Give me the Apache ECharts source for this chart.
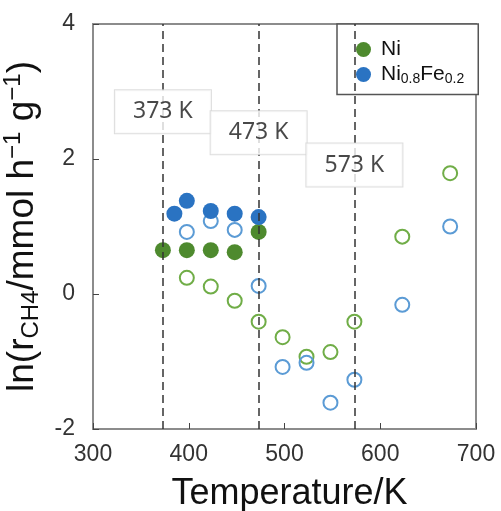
<!DOCTYPE html>
<html>
<head>
<meta charset="utf-8">
<script src="https://cdn.jsdelivr.net/npm/echarts@6/dist/echarts.min.js"></script>
<style>
  html, body { margin: 0; padding: 0; background: #fff; }
  #main { width: 501px; height: 511px; }
</style>
</head>
<body>
<div id="main"></div>
<script>
// temperatures (K) and ln(r) values
var niFilled = [[373, 0.65], [398, 0.65], [423, 0.65], [448, 0.62], [473, 0.92]];
var feFilled = [[385, 1.19], [398, 1.38], [423, 1.23], [448, 1.19], [473, 1.14]];
var niOpen = [[398, 0.24], [423, 0.11], [448, -0.1], [473, -0.41], [498, -0.64], [523, -0.93],
  [548, -0.86], [573, -0.41], [623, 0.85], [673, 1.79]];
var feOpen = [[398, 0.92], [423, 1.08], [448, 0.95], [473, 0.12], [498, -1.08], [523, -1.02],
  [548, -1.61], [573, -1.27], [623, -0.16], [673, 1.0]];
var refTemps = [373, 473, 573];
var refLabels = ['373 K', '473 K', '573 K'];
var refLabelY = [2.70, 2.39, 1.91];

var xTicks = { min: 300, max: 700, interval: 100 };
var yTicks = { min: -2, max: 4, interval: 2 };

var myChart = echarts.init(document.getElementById('main'));

var axisGray = '#8c8c8c';
var labelFont = 'Liberation Sans, Arial, sans-serif';

var option = {
  animation: false,
  grid: {
    left: 93, right: 25, top: 24, bottom: 82,
    outerBoundsMode: 'none',
    show: true, borderColor: axisGray, borderWidth: 2, backgroundColor: 'transparent'
  },
  legend: {
    data: ['Ni', 'Ni0.8Fe0.2'],
    orient: 'vertical',
    left: 337, top: 24,
    padding: [15, 14, 8, 19],
    itemGap: 4,
    itemWidth: 15, itemHeight: 15,
    borderColor: '#555', borderWidth: 1.5,
    backgroundColor: '#fff',
    icon: 'circle',
    formatter: function (name) {
      return name === 'Ni' ? '{n|Ni}' : '{n|Ni}{s|0.8}{n|Fe}{s|0.2}';
    },
    textStyle: {
      padding: [0, 0, 0, 5],
      rich: {
        n: { fontFamily: labelFont, fontSize: 21, color: '#111', lineHeight: 24 },
        s: { fontFamily: labelFont, fontSize: 14, color: '#111', lineHeight: 14, verticalAlign: 'bottom' }
      }
    }
  },
  xAxis: {
    type: 'value',
    min: xTicks.min, max: xTicks.max, interval: xTicks.interval,
    name: 'Temperature/K',
    nameLocation: 'middle',
    nameGap: 47,
    nameTextStyle: { fontFamily: labelFont, fontSize: 36, color: '#111', padding: [0, 0, 0, 10] },
    axisLine: { show: true, onZero: false, lineStyle: { color: axisGray, width: 2 } },
    axisTick: { show: true, inside: true, length: 6, lineStyle: { color: '#444', width: 1 } },
    axisLabel: { fontFamily: labelFont, fontSize: 23, color: '#333', margin: 14 },
    splitLine: { show: false }
  },
  yAxis: {
    type: 'value',
    min: yTicks.min, max: yTicks.max, interval: yTicks.interval,
    name: '{a|ln(r}{sub|CH4}{a|/mmol h}{sup|\u22121}{a| g}{sup|\u22121}{a|)}',
    nameLocation: 'middle',
    nameGap: 42,
    nameTextStyle: {
      rich: {
        a: { fontFamily: labelFont, fontSize: 37, color: '#111', lineHeight: 42 },
        sub: { fontFamily: labelFont, fontSize: 24, color: '#111', lineHeight: 22, verticalAlign: 'bottom' },
        sup: { fontFamily: labelFont, fontSize: 24, color: '#111', lineHeight: 22, verticalAlign: 'top' }
      }
    },
    axisLine: { show: true, onZero: false, lineStyle: { color: axisGray, width: 2 } },
    axisTick: { show: true, inside: true, length: 6, lineStyle: { color: '#444', width: 1 } },
    axisLabel: { fontFamily: labelFont, fontSize: 23, color: '#333', margin: 18 },
    splitLine: { show: false }
  },
  series: [
    {
      name: 'ref lines',
      type: 'scatter',
      data: [],
      z: 1,
      markLine: {
        silent: true,
        symbol: ['none', 'none'],
        label: { show: false },
        lineStyle: { color: '#333', width: 1.5, type: [8, 5] },
        data: refTemps.map(function (t) { return { xAxis: t }; })
      }
    },
    {
      name: 'Ni open',
      type: 'scatter',
      data: niOpen,
      symbol: 'circle',
      symbolSize: 14,
      z: 2,
      itemStyle: { color: 'rgba(0,0,0,0)', borderColor: '#70AD47', borderWidth: 2, opacity: 1 }
    },
    {
      name: 'Fe open',
      type: 'scatter',
      data: feOpen,
      symbol: 'circle',
      symbolSize: 14,
      z: 2,
      itemStyle: { color: 'rgba(0,0,0,0)', borderColor: '#5B9BD5', borderWidth: 2, opacity: 1 }
    },
    {
      name: 'Ni',
      type: 'scatter',
      data: niFilled,
      symbol: 'circle',
      symbolSize: 16,
      z: 3,
      itemStyle: { color: '#4E8A2E', opacity: 1 }
    },
    {
      name: 'Ni0.8Fe0.2',
      type: 'scatter',
      data: feFilled,
      symbol: 'circle',
      symbolSize: 16,
      z: 4,
      itemStyle: { color: '#2A73C2', opacity: 1 }
    },
    {
      name: 'ref labels',
      type: 'scatter',
      z: 5,
      symbolSize: 0,
      data: refTemps.map(function (t, i) { return { value: [t, refLabelY[i]], name: refLabels[i] }; }),
      label: {
        show: true,
        position: 'inside',
        formatter: '{b}',
        fontFamily: 'Noto Sans, Open Sans, sans-serif',
        fontSize: 23,
        color: '#1a1a1a',
        backgroundColor: '#fff',
        borderColor: '#d4d4d4',
        borderWidth: 1,
        width: 96,
        height: 43,
        lineHeight: 43,
        align: 'center',
        verticalAlign: 'middle'
      }
    }
  ]
};

myChart.setOption(option);
</script>
</body>
</html>
